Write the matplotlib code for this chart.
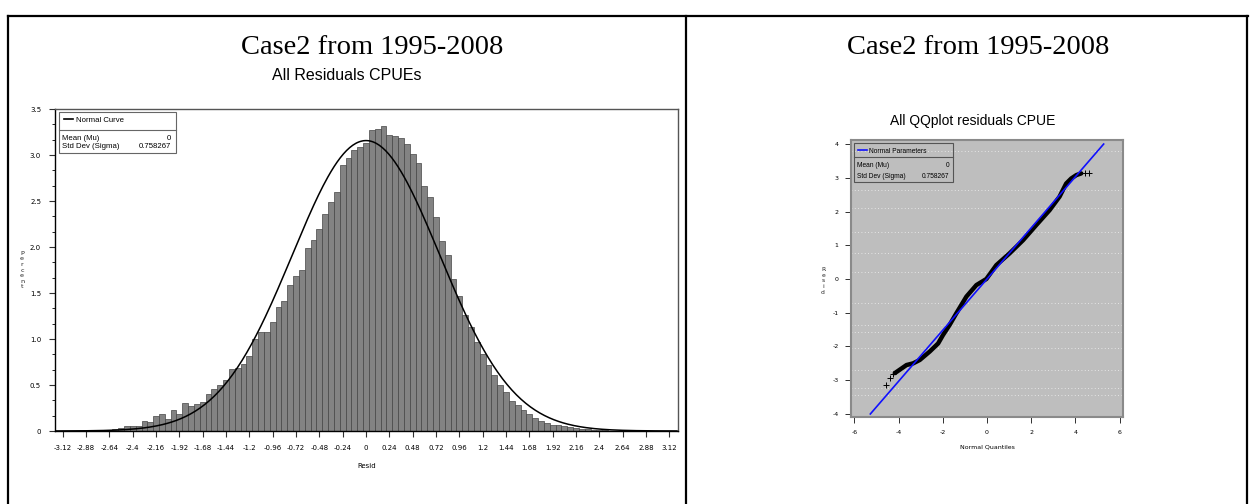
import numpy as np
import matplotlib
matplotlib.use("Agg")
import matplotlib.pyplot as plt
from matplotlib.lines import Line2D
from matplotlib.patches import Rectangle
from matplotlib.ticker import MultipleLocator, FixedLocator

plt.rcParams["axes.unicode_minus"] = False

# Histogram of residuals (bin centres, percent per 0.06 bin)
bin_centers = np.round(np.arange(-2.94, 2.701, 0.06), 2)
pct = [0.005, 0.005, 0.01, 0.01, 0.01, 0.01, 0.02, 0.03, 0.05, 0.05,
       0.05, 0.11, 0.10, 0.16, 0.19, 0.13, 0.23, 0.19, 0.30, 0.27,
       0.29, 0.32, 0.40, 0.46, 0.50, 0.55, 0.67, 0.68, 0.73, 0.81,
       1.00, 1.08, 1.08, 1.19, 1.35, 1.41, 1.59, 1.68, 1.75, 1.99,
       2.08, 2.20, 2.36, 2.49, 2.60, 2.89, 2.97, 3.05, 3.09, 3.13,
       3.27, 3.28, 3.31, 3.22, 3.21, 3.19, 3.12, 3.01, 2.91, 2.66,
       2.54, 2.33, 2.07, 1.91, 1.65, 1.47, 1.26, 1.13, 0.97, 0.84,
       0.72, 0.61, 0.50, 0.42, 0.33, 0.28, 0.23, 0.18, 0.14, 0.11,
       0.09, 0.07, 0.06, 0.05, 0.04, 0.03, 0.025, 0.02, 0.015, 0.01,
       0.01, 0.005, 0.005, 0.005, 0.005]
bin_width = 0.06
mu = 0.0
sigma = 0.758267
xtick_vals = np.round(np.arange(-3.12, 3.121, 0.24), 2)

# QQ plot: normal quantiles vs residuals (dense band + sparse tail points)
qq_x = [-4.17, -3.64, -3.34, -3.04, -2.59, -2.21, -1.99, -1.69, -1.39,
        -0.93, -0.48, -0.03, 0.42, 1.02, 1.63, 2.23, 2.83, 3.28, 3.58,
        3.81, 4.04, 4.26]
qq_y = [-2.79, -2.55, -2.50, -2.40, -2.15, -1.91, -1.66, -1.36, -1.02,
        -0.52, -0.18, 0.0, 0.41, 0.76, 1.15, 1.60, 2.04, 2.44, 2.83,
        2.98, 3.08, 3.13]
tail_x = [-4.58, -4.37, -4.25, 4.45, 4.61]
tail_y = [-3.14, -2.94, -2.81, 3.14, 3.15]
qq_grid = [3.8, 2.64, 2.1, 1.38, 0.76, 0.22, -0.7, -1.35, -1.56, -2.05, -2.7, -3.24, -3.44]

W, H = 1255, 504
fig = plt.figure(figsize=(W / 100, H / 100), dpi=100)
fig.patch.set_facecolor("white")


def frac(l, t, r, b):
    return [l / W, 1 - b / H, (r - l) / W, (b - t) / H]


def fx(x):
    return x / W


def fy(y):
    return 1 - y / H


def stacked(word, x, yc, step, size):
    # SAS style vertical label: one letter per line
    y0 = yc - step * (len(word) - 1) / 2
    for i, ch in enumerate(word):
        fig.text(fx(x), fy(y0 + i * step), ch, fontsize=size,
                 ha="center", va="center", color="#222222")


# table borders
for xs, ys in [((8, 1248), (16, 16)), ((8, 8), (16, 504)),
               ((686, 686), (16, 504)), ((1247, 1247), (16, 504))]:
    fig.add_artist(Line2D([fx(xs[0]), fx(xs[1])], [fy(ys[0]), fy(ys[1])],
                          color="black", lw=1.6, transform=fig.transFigure))

fig.text(fx(372), fy(47), "Case2 from 1995-2008", family="Liberation Serif",
         fontsize=20.5, ha="center", va="center")
fig.text(fx(978), fy(47), "Case2 from 1995-2008", family="Liberation Serif",
         fontsize=20.5, ha="center", va="center")

# ---------------- histogram ----------------
ax = fig.add_axes(frac(55, 109, 678, 431))
ax.bar(bin_centers, pct, width=bin_width, color="#838383",
       edgecolor="#454545", linewidth=0.5)
xc = np.linspace(-3.2, 3.2, 400)
yc = 100 * bin_width / (sigma * np.sqrt(2 * np.pi)) * np.exp(-0.5 * ((xc - mu) / sigma) ** 2)
ax.plot(xc, yc, color="black", lw=1.1)
ax.set_xlim(-3.2, 3.21)
ax.set_ylim(0, 3.5)
ax.xaxis.set_major_locator(FixedLocator(xtick_vals))
ax.set_xticklabels(["%g" % v for v in xtick_vals])
ax.yaxis.set_minor_locator(MultipleLocator(0.5 / 3))
ax.set_yticks(np.arange(0, 3.51, 0.5))
ax.set_yticklabels(["0"] + ["%.1f" % v for v in np.arange(0.5, 3.51, 0.5)])
ax.tick_params(axis="both", which="major", labelsize=5, length=4, width=0.8,
               color="#303030", direction="out", pad=6)
ax.tick_params(axis="y", which="minor", length=2.5, width=0.6)
for s in ax.spines.values():
    s.set_color("#555555")
    s.set_linewidth(1.0)
ax.spines["left"].set_color("black")
ax.spines["bottom"].set_color("black")
ax.set_xlabel("Resid", fontsize=5, labelpad=9)
stacked("Percent", 22, 270, 5.6, 4.6)
fig.text(fx(347), fy(75), "All Residuals CPUEs", family="Liberation Sans",
         fontsize=11.5, ha="center", va="center")

# legend box
fig.add_artist(Rectangle((fx(59), fy(153)), fx(176) - fx(59), fy(112) - fy(153),
                         fill=False, edgecolor="#666666", lw=0.8,
                         transform=fig.transFigure))
fig.add_artist(Line2D([fx(59), fx(176)], [fy(130), fy(130)], color="#666666",
                      lw=0.8, transform=fig.transFigure))
fig.add_artist(Line2D([fx(64), fx(73)], [fy(118.5), fy(118.5)], color="black",
                      lw=1.2, transform=fig.transFigure))
lg = dict(family="Liberation Sans", fontsize=5.6, va="center")
fig.text(fx(76), fy(121), "Normal Curve", **lg)
fig.text(fx(62), fy(138), "Mean (Mu)", **lg)
fig.text(fx(171), fy(138), "%g" % mu, ha="right", **lg)
fig.text(fx(62), fy(146), "Std Dev (Sigma)", **lg)
fig.text(fx(171), fy(146), "%g" % sigma, ha="right", **lg)

# ---------------- QQ plot ----------------
aq = fig.add_axes(frac(851, 140, 1123, 417))
aq.set_facecolor("#bebebe")
for g in qq_grid:
    aq.axhline(g, color="white", lw=0.6, ls=(0, (1, 3)), alpha=0.8, zorder=1)
aq.plot(qq_x, qq_y, color="black", lw=3.2, solid_capstyle="round", zorder=2)
aq.scatter(tail_x, tail_y, marker="+", color="black", s=14, lw=0.7, zorder=2)
lx = np.array([-4.0, 4.0]) / sigma
aq.plot(lx, mu + sigma * lx, color="#1010ff", lw=1.2, zorder=3)
aq.set_xlim(-6.15, 6.15)
aq.set_ylim(-4.09, 4.12)
aq.set_xticks(np.arange(-6, 7, 2))
aq.set_yticks(np.arange(-4, 5, 1))
aq.tick_params(axis="both", labelsize=4.5, length=4, width=0.7,
               color="#303030", direction="out", pad=5)
for s in aq.spines.values():
    s.set_color("#8a8a8a")
    s.set_linewidth(1.5)
aq.set_xlabel("Normal Quantiles", fontsize=4.5, labelpad=7)
stacked("Resid", 823, 281, 5.6, 4.3)
fig.text(fx(973), fy(121), "All QQplot residuals CPUE", family="Liberation Sans",
         fontsize=10, ha="center", va="center")

fig.add_artist(Rectangle((fx(854), fy(182)), fx(953) - fx(854), fy(143) - fy(182),
                         fill=False, edgecolor="#555555", lw=0.8,
                         transform=fig.transFigure))
fig.add_artist(Line2D([fx(854), fx(953)], [fy(157), fy(157)], color="#555555",
                      lw=0.8, transform=fig.transFigure))
fig.add_artist(Line2D([fx(858), fx(867)], [fy(150), fy(150)], color="#1010ff",
                      lw=1.2, transform=fig.transFigure))
lq = dict(family="Liberation Sans", fontsize=4.8, va="center")
fig.text(fx(869), fy(151.5), "Normal Parameters", **lq)
fig.text(fx(857), fy(166), "Mean (Mu)", **lq)
fig.text(fx(949), fy(166), "%g" % mu, ha="right", **lq)
fig.text(fx(857), fy(177), "Std Dev (Sigma)", **lq)
fig.text(fx(949), fy(177), "%g" % sigma, ha="right", **lq)

fig.savefig("out.png", dpi=100)
